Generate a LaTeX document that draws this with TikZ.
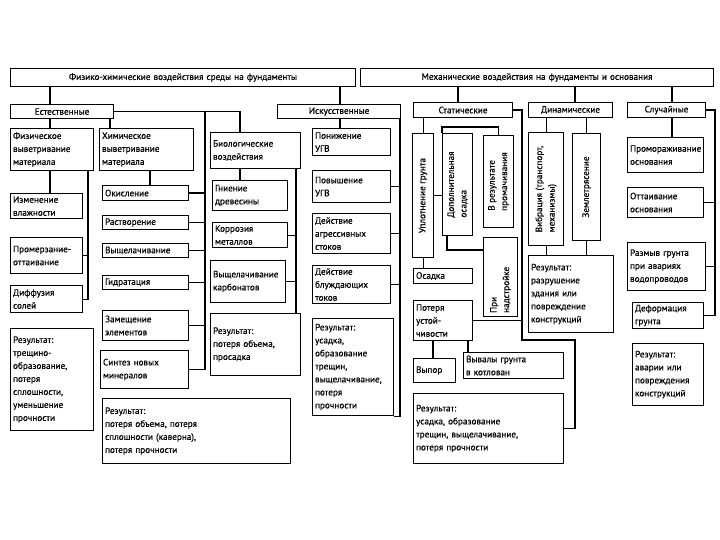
\documentclass[tikz,border=0pt]{standalone}
\usepackage{fontspec}
\setmainfont{PT Sans}[FakeBold=0.5]
\usetikzlibrary{calc}
\newcommand\widesp{\spaceskip=0.65em plus 0.1em\relax}
\tikzset{
  box/.style={draw, line width=1.1pt, inner xsep=2.5pt, inner ysep=1pt, font=\fontsize{9.2}{13}\selectfont, align=left},
  hdr/.style={align=center, font=\fontsize{9.2}{13}\selectfont\widesp},
  conn/.style={draw, line width=1.1pt},
  rot/.style={rotate=90, inner sep=0pt, align=left, font=\fontsize{9.2}{12.5}\selectfont}
}
\newcommand\bx[7][]{%
  \pgfmathsetmacro\bxw{#5-#3}%
  \pgfmathsetmacro\bxh{#6-#4}%
  \pgfmathsetmacro\bxt{#5-#3-5}%
  \node[box,anchor=north west,minimum width=\bxw pt,minimum height=\bxh pt,text width=\bxt pt,#1] (#2) at (#3,#4) {#7};}
\begin{document}
\begin{tikzpicture}[x=1pt,y=-1pt]
\useasboundingbox[fill=white] (0,0) rectangle (720,540);
% headers
\bx[hdr]{A}{10}{68}{355}{86}{Физико-химические воздействия среды на фундаменты}
\bx[hdr]{B}{360}{68}{713}{86}{Механические воздействия на фундаменты и основания}
\bx[align=center]{nat}{10}{104}{113}{118}{Естественные}
\bx[align=center]{art}{277}{104}{400}{118}{Искусственные}
\bx[align=center]{stat}{413}{102}{512}{117}{Статические}
\bx[align=center]{dyn}{528}{102}{612}{117}{Динамические}
\bx[align=center]{rnd}{627}{102}{705}{117}{Случайные}
% physical
\bx{phys}{10}{128}{93}{170}{Физическое\\выветривание\\материала}
\bx{izm}{10}{193}{82}{218}{Изменение\\влажности}
\bx{prom}{10}{237}{82}{273}{Промерзание-\\оттаивание}
\bx{dif}{10}{285}{82}{312}{Диффузия\\солей}
\bx{pres}{10}{328}{93}{430}{Результат:\\трещино-\\образование,\\потеря\\сплошности,\\уменьшение\\прочности}
% chemical
\bx{chem}{99}{128}{193}{170}{Химическое\\выветривание\\материала}
\bx{oki}{102}{185}{188}{200}{Окисление}
\bx{rast}{102}{215}{188}{229}{Растворение}
\bx{vysh}{102}{243}{188}{257}{Выщелачивание}
\bx{gidr}{102}{275}{188}{289}{Гидратация}
\bx{zam}{102}{310}{188}{340}{Замещение\\элементов}
\bx{sint}{100}{350}{188}{388}{Синтез новых\\минералов}
\bx{cres}{102}{398}{290}{463}{Результат:\\потеря объема, потеря\\сплошности (каверна),\\потеря прочности}
% biological
\bx{bio}{210}{132}{300}{168}{Биологические\\воздействия}
\bx{gni}{212}{180}{287}{210}{Гниение\\древесины}
\bx{kor}{212}{222}{287}{247}{Коррозия\\металлов}
\bx{vyk}{210}{260}{285}{302}{Выщелачивание\\карбонатов}
\bx{bres}{210}{313}{300}{375}{Результат:\\потеря объема,\\просадка}
% artificial
\bx{pon}{312}{128}{390}{155}{Понижение\\УГВ}
\bx{pov}{312}{170}{390}{202}{Повышение\\УГВ}
\bx{agr}{312}{213}{390}{253}{Действие\\агрессивных\\стоков}
\bx{blu}{312}{265}{390}{303}{Действие\\блуждающих\\токов}
\bx{ares}{312}{318}{393}{415}{Результат:\\усадка,\\образование\\трещин,\\выщелачивание,\\потеря\\прочности}
% static
\bx{upl}{412}{133}{433}{257}{}
\bx{dop}{442}{133}{472}{235}{}
\bx{vre}{483}{135}{513}{227}{}
\bx{nad}{483}{237}{517}{316}{}
\node[rot] (upl-t) at (upl.center) {Уплотнение грунта};
\node[rot] (dop-t) at (dop.center) {Дополнительная\\осадка};
\node[rot] (vre-t) at (vre.center) {В результате\\промачивания};
\node[rot, anchor=west] (nad-t) at ($(nad.south)+(0,-4)$) {При\\надстройке};
\bx{osa}{413}{268}{472}{283}{Осадка}
\bx{pot}{413}{300}{472}{340}{Потеря\\устой-\\чивости}
\bx{vyp}{413}{358}{455}{382}{Выпор}
\bx{vyv}{463}{352}{563}{378}{Вывалы грунта\\в котлован}
\bx{sres}{413}{393}{563}{463}{Результат:\\усадка, образование\\трещин, выщелачивание,\\потеря прочности}
% dynamic
\bx{vib}{528}{132}{563}{245}{}
\bx{zem}{572}{133}{600}{240}{}
\node[rot] (vib-t) at (vib.center) {Вибрация (транспорт,\\механизмы)};
\node[rot] (zem-t) at (zem.center) {Землетрясение};
\bx{dres}{528}{255}{613}{332}{Результат:\\разрушение\\здания или\\повреждение\\конструкций}
% random
\bx{prm}{627}{137}{703}{172}{Промораживание\\основания}
\bx{ott}{627}{187}{703}{217}{Оттаивание\\основания}
\bx{raz}{627}{242}{705}{290}{Размыв грунта\\при авариях\\водопроводов}
\bx{def}{632}{302}{703}{328}{Деформация\\грунта}
\bx{rres}{632}{343}{703}{405}{Результат:\\аварии или\\повреждения\\конструкций}
% helper coordinates
\coordinate (x50) at (50,0);
\coordinate (x88) at (88,0);
\coordinate (x110) at (110,0);
\coordinate (x150) at (150,0);
\coordinate (x205) at (205,0);
\coordinate (x240) at (240,0);
\coordinate (x296) at (296,0);
\coordinate (x340) at (340,0);
\coordinate (x400) at (400,0);
\coordinate (x433) at (433,0);
\coordinate (x447) at (447,0);
\coordinate (x458) at (458,0);
\coordinate (x468) at (468,0);
\coordinate (x575) at (575,0);
\coordinate (x672) at (672,0);
\coordinate (y127) at (0,127);
\coordinate (y250) at (0,250);
\coordinate (s1) at (522,340);
\coordinate (s2) at (575,340);
\coordinate (r1) at (715,0);
% connectors top
\draw[conn] (A.south -| x50) -- (nat.north -| x50);
\draw[conn] (A.south -| x340) -- (art.north -| x340);
\draw[conn] (B.south -| x458) -- (stat.north -| x458);
\draw[conn] (B.south -| x575) -- (dyn.north -| x575);
\draw[conn] (B.south -| x672) -- (rnd.north -| x672);
\draw[conn] (nat.east) -| (bio.north -| x240);
\draw[conn] (nat.south -| x50) -- (phys.north -| x50);
\draw[conn] (nat.south -| x110) -- (chem.north -| x110);
% physical
\draw[conn] (phys.south -| x50) -- (izm.north -| x50);
\draw[conn] (phys.south -| x88) |- (dif.east);
\draw[conn] (prom.east) -- (prom.east -| x88);
% chemical
\draw[conn] (chem.south -| x150) -- (oki.north -| x150);
\draw[conn] (nat.east -| x205) |- (sint.east);
\foreach \n in {oki,rast,vysh,gidr,zam} \draw[conn] (\n.east) -- (\n.east -| x205);
% biological
\draw[conn] (bio.south -| x240) -- (gni.north -| x240);
\draw[conn] (bio.south -| x296) -- (bres.north -| x296);
\foreach \n in {kor,vyk} \draw[conn] (\n.east) -- (\n.east -| x296);
% artificial
\draw[conn] (art.south -| x340) -- (pon.north -| x340);
\draw[conn] (art.south -| x400) |- (ares.south east);
\foreach \n in {pov,agr,blu} \draw[conn] (\n.east) -- (\n.east -| x400);
% static
\draw[conn] (stat.south -| upl.north) -- (upl.north);
\draw[conn] (upl.south) -- (osa.north -| upl.south);
\draw[conn] (upl.east) -- (upl.east -| dop.west);
\draw[conn] (dop.north west) |- (y127 -| vre.north) -- (vre.north);
\draw[conn] (dop.south -| x447) |- (nad.west |- y250);
\draw[conn] (stat.east) -| (s1) -- (s2) |- (sres.east);
\draw[conn] (pot.east) -- (pot.east -| s1);
\draw[conn] (pot.south -| x433) -- (vyp.north -| x433);
\draw[conn] (pot.south -| x468) -- (vyv.north -| x468);
% dynamic
\draw[conn] (dyn.south -| vib.north) -- (vib.north);
\draw[conn] (dyn.south -| zem.north) -- (zem.north);
\draw[conn] (vib.south) -- (dres.north -| vib.south);
\draw[conn] (zem.south) -- (dres.north -| zem.south);
% random
\draw[conn] (rnd.south -| x672) -- (prm.north -| x672);
\draw[conn] (rnd.east) -| (r1 |- def.east) -- (def.east);
\foreach \n in {ott,raz} \draw[conn] (\n.east) -- (\n.east -| r1);
\end{tikzpicture}
\end{document}
